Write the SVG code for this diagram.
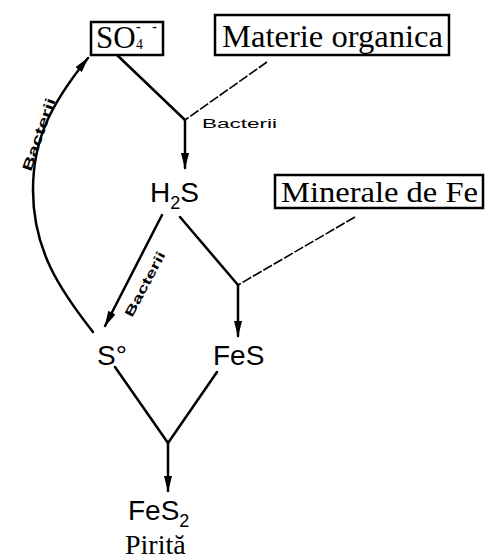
<svg xmlns="http://www.w3.org/2000/svg" width="489" height="560" viewBox="0 0 489 560">
  <defs>
    <marker id="arrow" viewBox="0 0 16 8" refX="15" refY="4" markerWidth="16" markerHeight="8" markerUnits="userSpaceOnUse" orient="auto">
      <path d="M0,0 L16,4 L0,8 Z" fill="#000"/>
    </marker>
    <style>
      .box { fill: #fff; stroke: #000; stroke-width: 2.5; }
      .serif { font-family: "Liberation Serif", "Times New Roman", serif; fill: #000; }
      .sans { font-family: "Liberation Sans", Arial, sans-serif; fill: #000; }
      .lbl { font-family: "Liberation Sans", Arial, sans-serif; font-weight: bold; fill: #000; }
      .ln { fill: none; stroke: #000; stroke-width: 2.5; stroke-linecap: round; }
      .thin { fill: none; stroke: #000; stroke-width: 1.6; stroke-dasharray: 10 2; }
      .arr { marker-end: url(#arrow); }
    </style>
  </defs>

  <!-- connectors -->
  <g id="connectors">
    <!-- SO4 + organic matter -> H2S -->
    <line class="ln" x1="117" y1="55" x2="185" y2="120"/>
    <line class="thin" x1="267" y1="62" x2="185" y2="120"/>
    <line class="ln arr" x1="185" y1="120" x2="185" y2="168"/>
    <text class="sans" x="202" y="128" font-size="12" textLength="75" lengthAdjust="spacingAndGlyphs">Bacterii</text>

    <!-- H2S + Fe minerals -> FeS -->
    <line class="ln" x1="180" y1="217" x2="238" y2="285"/>
    <line class="thin" x1="355" y1="217" x2="238" y2="285"/>
    <line class="ln arr" x1="238" y1="285" x2="238" y2="336"/>

    <!-- H2S -> S° -->
    <line class="ln arr" x1="162" y1="215" x2="105" y2="326"/>
    <text class="lbl" font-size="13" textLength="72" lengthAdjust="spacingAndGlyphs" transform="translate(132,318) rotate(-62)">Bacterii</text>

    <!-- S° -> SO4 -->
    <path class="ln arr" d="M93,332 C60,290 33,250 33,190 C33,140 50,105 88,58"/>
    <text class="lbl" font-size="14" textLength="76" lengthAdjust="spacingAndGlyphs" transform="translate(31,172) rotate(-71)">Bacterii</text>

    <!-- S° + FeS -> FeS2 -->
    <line class="ln" x1="115" y1="367" x2="168" y2="443"/>
    <line class="ln" x1="217" y1="372" x2="168" y2="443"/>
    <line class="ln arr" x1="168" y1="443" x2="168" y2="491"/>
  </g>

  <g id="so4">
    <rect class="box" x="91" y="22" width="72" height="33"/>
    <text class="serif" x="96" y="48" font-size="31">SO</text>
    <text class="serif" x="136" y="49" font-size="14">4</text>
    <text class="serif" x="136" y="31" font-size="14" font-weight="bold" textLength="21" lengthAdjust="spacing">- -</text>
  </g>

  <g id="materie-organica">
    <rect class="box" x="215" y="15" width="234" height="40"/>
    <text class="serif" x="222" y="47" font-size="31" textLength="221" lengthAdjust="spacingAndGlyphs">Materie organica</text>
  </g>

  <g id="h2s">
    <text class="sans" x="150" y="202" font-size="28">H<tspan font-size="18" dy="7">2</tspan><tspan dy="-7">S</tspan></text>
  </g>

  <g id="minerale-fe">
    <rect class="box" x="275" y="175" width="208" height="33"/>
    <text class="serif" x="281" y="202" font-size="30" textLength="197" lengthAdjust="spacingAndGlyphs">Minerale de Fe</text>
  </g>

  <g id="s0">
    <text class="sans" x="97" y="365" font-size="28">S°</text>
  </g>

  <g id="fes">
    <text class="sans" x="213" y="365" font-size="28">FeS</text>
  </g>

  <g id="fes2">
    <text class="sans" x="128" y="520" font-size="28">FeS<tspan font-size="18" dy="7">2</tspan></text>
    <text class="serif" x="125" y="554" font-size="28">Pirită</text>
  </g>
</svg>
